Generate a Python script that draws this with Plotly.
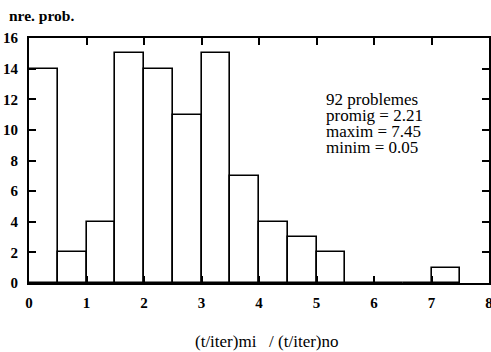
import plotly.graph_objects as go

bin_left = [0.0, 0.5, 1.0, 1.5, 2.0, 2.5, 3.0, 3.5, 4.0, 4.5, 5.0, 5.5, 6.0, 6.5, 7.0]
counts = [14, 2, 4, 15, 14, 11, 15, 7, 4, 3, 2, 0, 0, 0, 1]
bin_width = 0.5
x_ticks = [0, 1, 2, 3, 4, 5, 6, 7, 8]
y_ticks = [0, 2, 4, 6, 8, 10, 12, 14, 16]
stats_lines = ["92 problemes", "promig = 2.21", "maxim = 7.45", "minim = 0.05"]
x_title = "(t/iter)mi&nbsp;&nbsp; / (t/iter)no"
y_title = "nre. prob."

FONT = "Liberation Serif"

fig = go.Figure()
fig.add_trace(go.Bar(
    x=bin_left, y=counts, width=bin_width, offset=0,
    marker=dict(color="white", line=dict(color="black", width=1.6)),
    showlegend=False, hoverinfo="skip",
))

axis_common = dict(
    showline=True, linecolor="black", linewidth=2, mirror="ticks",
    ticks="inside", ticklen=7, tickwidth=1.5, tickcolor="black",
    showgrid=False, zeroline=False, automargin=False,
    ticklabeloverflow="allow",
    tickfont=dict(family=FONT, size=15, color="black", weight="bold"),
)

annotations = [
    dict(text=y_title, x=0, y=1, xref="paper", yref="paper",
         xanchor="left", yanchor="bottom", xshift=-22, yshift=12, showarrow=False,
         font=dict(family=FONT, size=15.5, color="black", weight="bold")),
    dict(text=x_title, x=0.5, y=0, xref="paper", yref="paper",
         xanchor="center", yanchor="middle", xshift=8, yshift=-58, showarrow=False,
         font=dict(family=FONT, size=17, color="black")),
]
line_y = [12.0, 10.95, 9.9, 8.85]
for txt, yy in zip(stats_lines, line_y):
    annotations.append(dict(text=txt, x=5.13, y=yy, xref="x", yref="y",
                            xanchor="left", yanchor="middle", showarrow=False,
                            font=dict(family=FONT, size=17, color="black")))

fig.update_layout(
    width=491, height=352,
    margin=dict(l=29, r=2, t=38, b=69, autoexpand=False),
    paper_bgcolor="white", plot_bgcolor="white",
    bargap=0,
    font=dict(family=FONT, color="black"),
    xaxis=dict(range=[0, 8], tickvals=x_ticks, ticklabelstandoff=5, **axis_common),
    yaxis=dict(range=[0, 16], tickvals=y_ticks, ticklabelstandoff=6, **axis_common),
    annotations=annotations,
)

fig.write_html("out.html", config={"displayModeBar": False},
               post_script="document.body.style.margin='0';document.body.style.overflow='hidden';")
